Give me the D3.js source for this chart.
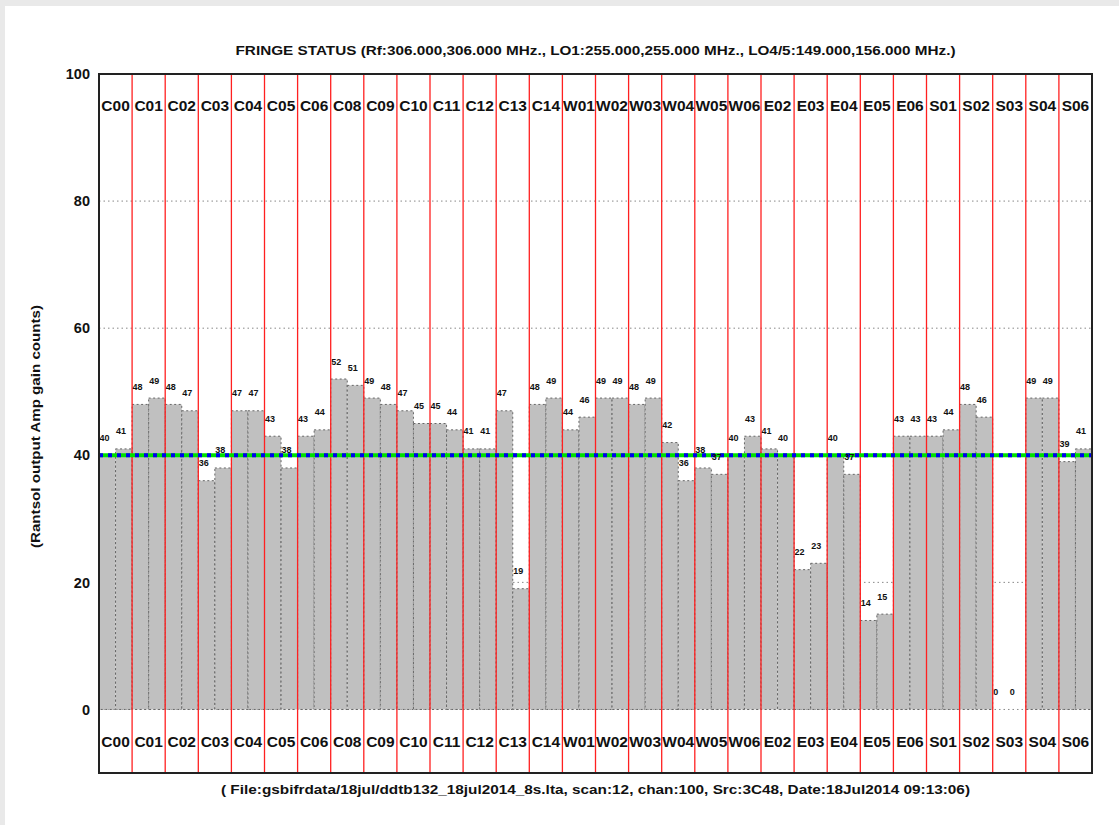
<!DOCTYPE html>
<html>
<head>
<meta charset="utf-8">
<script src="https://cdn.jsdelivr.net/npm/d3@7"></script>
<style>
html,body{margin:0;padding:0;background:#e9e9e9;}
svg{display:block;}
text{font-family:"Liberation Sans",Arial,Helvetica,sans-serif;font-weight:bold;fill:#111;}
</style>
</head>
<body>
<svg id="chart" width="1119" height="825"></svg>
<script>
const antennas = ["C00","C01","C02","C03","C04","C05","C06","C08","C09","C10","C11","C12","C13","C14",
  "W01","W02","W03","W04","W05","W06","E02","E03","E04","E05","E06","S01","S02","S03","S04","S06"];
const pol1 = [40,48,48,36,47,43,43,52,49,47,45,41,47,48,44,49,48,42,38,40,41,22,40,14,43,43,48,0,49,39];
const pol2 = [41,49,47,38,47,38,44,51,48,45,44,41,19,49,46,49,49,36,37,43,40,23,37,15,43,44,46,0,49,41];
const yTicks = [0,20,40,60,80,100];
const gridValues = [0,20,40,60,80];
const threshold = 40;
const titleText = "FRINGE STATUS (Rf:306.000,306.000 MHz., LO1:255.000,255.000 MHz., LO4/5:149.000,156.000 MHz.)";
const footText = "( File:gsbifrdata/18jul/ddtb132_18jul2014_8s.lta, scan:12, chan:100, Src:3C48, Date:18Jul2014 09:13:06)";
const yLabel = "(Rantsol output Amp gain counts)";

const svg = d3.select("#chart");
// page
svg.append("rect").attr("x",5).attr("y",6).attr("width",1114).attr("height",819).attr("fill","#fff");

const L=99, R=1092, T=74, B=773;
const bars = [];
antennas.forEach((a,i)=>{ bars.push({ant:a,pol:0,v:pol1[i],key:a+"_0"}); bars.push({ant:a,pol:1,v:pol2[i],key:a+"_1"}); });

const xAnt = d3.scaleBand().domain(antennas).range([L,R]).padding(0);
const xBar = d3.scaleBand().domain([0,1]).range([0,xAnt.bandwidth()]).padding(0);
const y = d3.scaleLinear().domain([-10,100]).range([B,T]);

// grid
svg.append("g").selectAll("line").data(gridValues).join("line")
  .attr("x1",L).attr("x2",R).attr("y1",d=>y(d)).attr("y2",d=>y(d))
  .attr("stroke","#888").attr("stroke-width",1).attr("stroke-dasharray","1.5,3");

// bars
const bx = d=>xAnt(d.ant)+xBar(d.pol);
svg.append("g").selectAll("rect").data(bars.filter(d=>d.v>0)).join("rect")
  .attr("x",bx).attr("width",xBar.bandwidth())
  .attr("y",d=>y(d.v)).attr("height",d=>y(0)-y(d.v))
  .attr("fill","#c0c0c0").attr("stroke","#666").attr("stroke-width",1).attr("stroke-dasharray","2,2.5");

// red separators
svg.append("g").selectAll("line").data(antennas.slice(1)).join("line")
  .attr("x1",d=>xAnt(d)).attr("x2",d=>xAnt(d)).attr("y1",T).attr("y2",B)
  .attr("stroke","#ff2020").attr("stroke-width",1.3);

// threshold line
svg.append("line").attr("x1",L).attr("x2",R).attr("y1",y(threshold)).attr("y2",y(threshold))
  .attr("stroke","#00e000").attr("stroke-width",4);
svg.append("line").attr("x1",L).attr("x2",R).attr("y1",y(threshold)).attr("y2",y(threshold))
  .attr("stroke","#0000ee").attr("stroke-width",4).attr("stroke-dasharray","4,5");

// value labels
svg.append("g").selectAll("text").data(bars).join("text")
  .attr("x",d=>bx(d)+0.5).attr("y",d=>y(d.v)-14.5)
  .attr("font-size","9px").text(d=>d.v);

// antenna labels top & bottom
svg.append("g").selectAll("text").data(antennas).join("text")
  .attr("x",d=>xAnt(d)+xAnt.bandwidth()/2).attr("y",111).attr("text-anchor","middle")
  .attr("font-size","15.5px").text(d=>d);
svg.append("g").selectAll("text").data(antennas).join("text")
  .attr("x",d=>xAnt(d)+xAnt.bandwidth()/2).attr("y",747).attr("text-anchor","middle")
  .attr("font-size","15.5px").text(d=>d);

// frame
svg.append("rect").attr("x",L).attr("y",T).attr("width",R-L).attr("height",B-T)
  .attr("fill","none").attr("stroke","#222").attr("stroke-width",2);

// y axis
const yAxis = d3.axisLeft(y).tickValues(yTicks).tickSize(0).tickPadding(9);
const gy = svg.append("g").attr("transform",`translate(${L},0)`).call(yAxis);
gy.select(".domain").remove();
gy.selectAll("text").attr("font-size","14.5px").attr("font-family","Liberation Sans, Arial, sans-serif").attr("font-weight","bold").attr("fill","#111");

// titles
svg.append("text").attr("x",(L+R)/2).attr("y",55).attr("text-anchor","middle").attr("font-size","13px")
  .attr("textLength",720).attr("lengthAdjust","spacingAndGlyphs").text(titleText);
svg.append("text").attr("x",(L+R)/2).attr("y",794).attr("text-anchor","middle").attr("font-size","13px")
  .attr("textLength",749).attr("lengthAdjust","spacingAndGlyphs").text(footText);
svg.append("text").attr("transform",`translate(40,${(T+B)/2+3}) rotate(-90)`).attr("text-anchor","middle").attr("font-size","13px")
  .attr("textLength",243).attr("lengthAdjust","spacingAndGlyphs").text(yLabel);
</script>
</body>
</html>
